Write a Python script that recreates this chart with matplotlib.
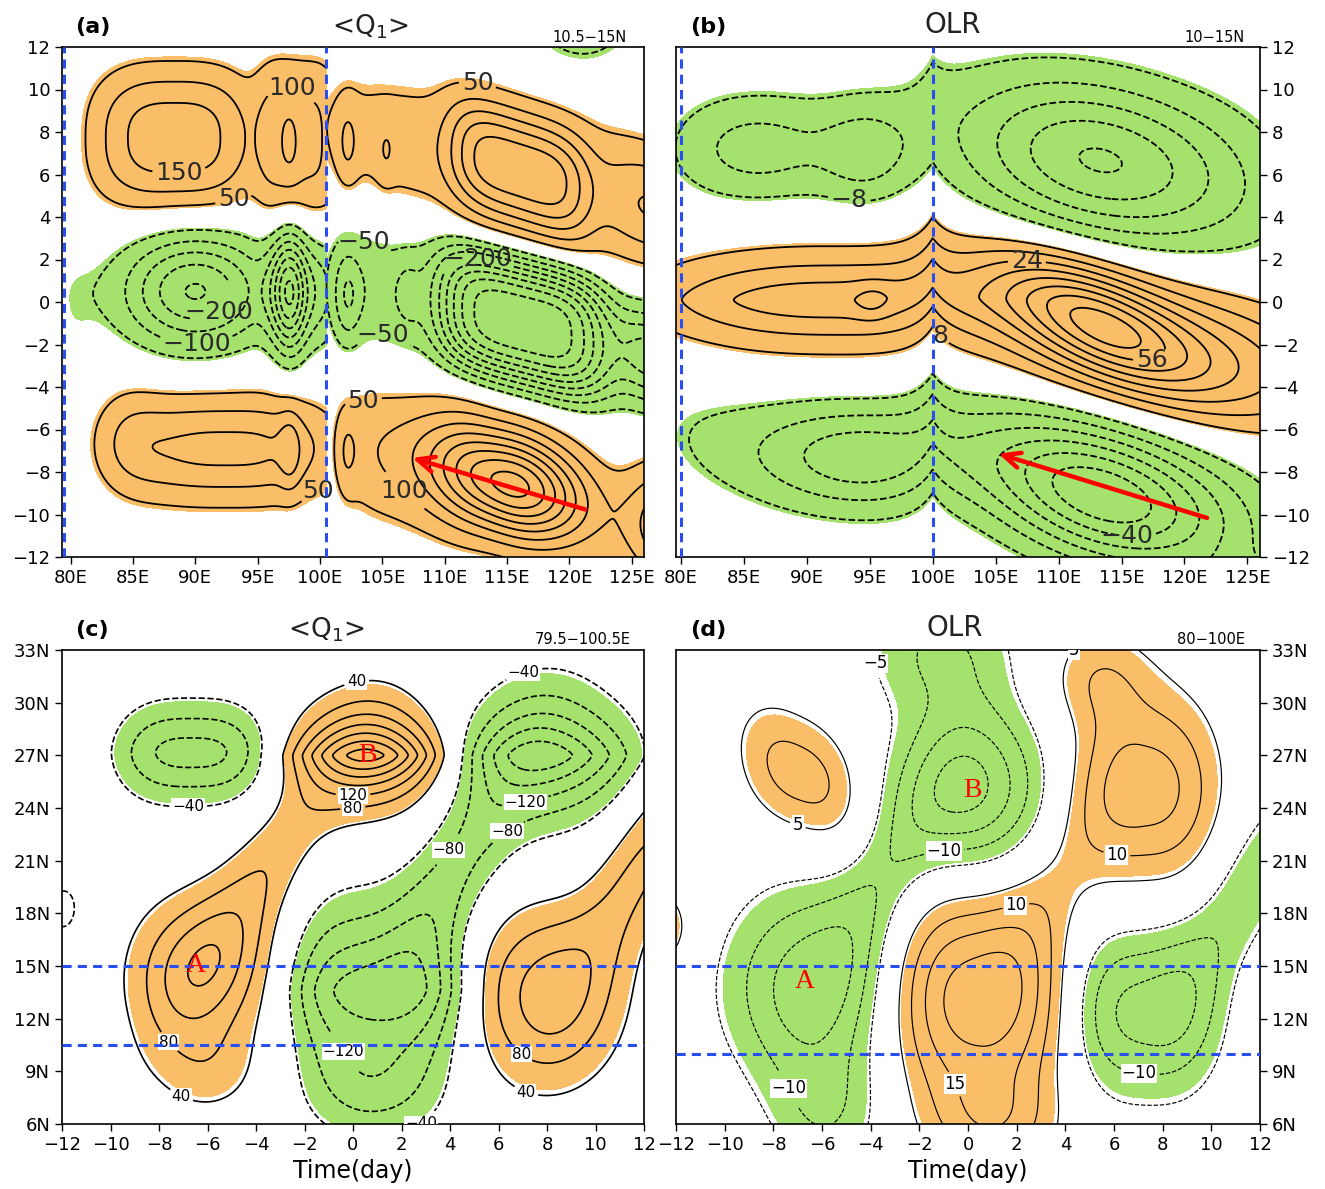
import numpy as np
import matplotlib
matplotlib.use('Agg')
import matplotlib.pyplot as plt

# ---------------- data (blob descriptions) ----------------
# each field = sum of blobs: x0, y0, amplitude, x-scale, y-scale, tilt (dy/dx), x-shape, y-shape
# Panel (a): <Q1>, longitude vs day, left of 100.5E and right of 100.5E
QA_L_X0 = [88.3, 98.3, 97.6, 90.0, 98.5, 97.6, 92.5, 84.5, 97.6, 80.0]
QA_L_Y0 = [7.7, 7.6, 7.5, 0.5, 0.5, 0.4, -6.9, -6.4, -7.0, -0.4]
QA_L_AMP = [180, 110, 45, -255, -120, -200, 165, 50, 60, -30]
QA_L_SX = [5.2, 2.8, 0.6, 4.1, 2.5, 0.9, 7.0, 2.0, 0.6, 1.6]
QA_L_SY = [2.5, 3.2, 1.3, 1.85, 1.9, 2.0, 1.8, 1.8, 1.3, 2.4]
QA_L_TILT = [0, 0, 0, 0, 0, 0, 0, 0, 0, 0]
QA_L_QX = [3, 4, 2, 2, 4, 2, 3, 2, 2, 2]
QA_L_QY = [2.5, 3, 2, 2, 2, 2, 2, 2, 2, 3]

QA_R_X0 = [116.0, 113.0, 102.2, 105.3, 127.5, 121.0, 116.4, 106.0, 102.2, 107.0, 126.5, 115.5, 107.0, 102.1, 128.0]
QA_R_Y0 = [6.2, 6.6, 7.4, 7.0, 4.3, 13.3, -1.0, 0.4, 0.2, 0.4, -2.6, -8.6, -7.3, -7.1, -10.5]
QA_R_AMP = [210, 80, 55, 32, 120, -90, -440, -85, -90, -40, -230, 420, 90, 50, 200]
QA_R_SX = [4.5, 12.5, 0.6, 0.5, 3.5, 3.0, 5.45, 5.0, 0.8, 0.7, 2.5, 4.1, 5.0, 0.6, 2.5]
QA_R_SY = [1.95, 2.5, 1.4, 1.0, 1.8, 1.6, 2.26, 2.3, 1.6, 1.2, 1.6, 1.7, 2.5, 1.4, 2.0]
QA_R_TILT = [-0.2, -0.12, 0, 0, -0.12, 0, -0.15, -0.1, 0, 0, -0.15, -0.15, -0.1, 0, 0]
QA_R_QX = [4, 4, 2, 2, 2, 2, 4, 4, 2, 2, 2, 2, 4, 2, 2]
QA_R_QY = [2.5, 2, 2, 2, 2, 2, 3, 2, 2, 2, 2, 2, 2, 2, 2]

# Panel (b): OLR, longitude vs day
OB_X0 = [92.0, 95.2, 113.5, 118.0, 86.0, 94.7, 90.0, 113.3, 115.0, 94.5, 88.0, 113.5, 115.0, 124.0]
OB_Y0 = [0.1, 0.0, -1.1, -2.0, 7.2, 7.0, 7.2, 6.7, 6.3, -7.3, -6.8, -9.2, -8.5, -13.6]
OB_AMP = [30, 6, 40, 30, -13, -13, -7, -31, -10, -22, -8, -46, -10, -16]
OB_SX = [11.0, 1.0, 5.5, 11.0, 4.3, 2.5, 10.0, 7.0, 12.0, 6.0, 10.0, 6.5, 12.0, 2.5]
OB_SY = [1.45, 0.6, 1.6, 2.2, 1.6, 1.6, 2.5, 2.45, 3.0, 1.7, 2.2, 2.1, 2.5, 1.0]
OB_TILT = [0, 0, -0.25, -0.13, 0, 0, 0, -0.1, -0.08, 0, -0.1, -0.15, -0.15, 0]
OB_QX = [2.5, 2, 2, 3, 2, 2, 4, 2, 4, 2, 4, 2, 4, 2]
OB_QY = [1.5, 2, 2, 2, 2, 2, 2, 2, 2, 2, 2, 2, 2, 2]
OB_KINK = 1.2      # days the pattern is lifted at 100E
OB_KINK_W = 1.3

# Panel (c): <Q1>, day vs latitude
QC_X0 = [0.7, -6.4, -6.0, -4.0, -6.6, 1.0, 0.8, 4.5, 8.0, 8.0, 12.0, -11.9]
QC_Y0 = [27.0, 14.7, 9.0, 19.5, 27.15, 13.6, 8.0, 21.0, 27.0, 13.3, 21.0, 18.2]
QC_AMP = [290, 120, 50, 75, -135, -175, -60, -80, -215, 135, 90, -46]
QC_SX = [2.0, 2.0, 1.6, 2.6, 2.5, 2.9, 1.8, 2.0, 2.4, 2.1, 2.0, 1.0]
QC_SY = [1.4, 3.0, 2.0, 2.8, 1.9, 3.0, 2.0, 3.0, 1.85, 3.6, 3.0, 2.2]
QC_TILT = [0, 0, 0, 1.7, 0, 0, 0, 1.7, 0, 0, 1.7, 0]
QC_QX = [2, 2, 2, 2, 3, 3.5, 2, 2, 2, 2, 2, 2]
QC_QY = [1.3, 2, 2, 2, 1.8, 1.5, 2, 2, 1.3, 2, 2, 2]

# Panel (d): OLR, day vs latitude
OD_X0 = [-6.9, 0.1, -1.2, -6.6, -5.8, 0.35, 1.0, 7.3, 5.3, 7.3, -3.5, 3.5, 11.5, -12.8]
OD_Y0 = [25.9, 25.1, 33.0, 13.8, 6.5, 13.1, 6.0, 25.1, 31.5, 12.4, 20.0, 19.5, 19.5, 17.2]
OD_AMP = [12.5, -21, -10, -17, -8, 23, 10, 17.5, 8, -16.5, -8, 5, -9, 12]
OD_SX = [1.9, 2.05, 2.2, 2.4, 1.6, 2.6, 1.8, 2.2, 1.5, 2.4, 2.0, 1.8, 2.0, 0.9]
OD_SY = [2.5, 3.3, 2.5, 4.0, 2.5, 4.2, 2.0, 3.7, 2.0, 3.4, 3.0, 3.0, 3.0, 1.5]
OD_TILT = [-0.6, 0, 0, 0, 0, 0, 0, 0, 0, 0, 1.7, 1.7, 1.7, 0]
OD_QX = [2.5, 2, 2, 2, 2, 2.5, 2, 2.5, 2, 3, 2, 2, 2, 2]
OD_QY = [2, 2, 2, 2, 2, 2, 2, 2, 2, 2, 2, 2, 2, 2]

LON_TICKS = [80, 85, 90, 95, 100, 105, 110, 115, 120, 125]
DAY_TICKS_A = list(range(-12, 13, 2))
LAT_TICKS = [6, 9, 12, 15, 18, 21, 24, 27, 30, 33]
TIME_TICKS = list(range(-12, 13, 2))

LEV_A = [v for v in range(-500, 501, 50) if v != 0]
LEV_B = [v for v in range(-80, 81, 8) if v != 0]
LEV_C = [v for v in range(-320, 321, 40) if v != 0]
LEV_D = [v for v in range(-30, 31, 5) if v != 0]

ORANGE = '#fbbe68'
GREEN = '#a5e16d'
BLUE = '#2a4ff0'
MINUS = '\u2212'


def blobs(X, Y, x0, y0, amp, sx, sy, tilt, qx, qy):
    F = np.zeros_like(X)
    for a, b, c, d, e, t, p, q in zip(x0, y0, amp, sx, sy, tilt, qx, qy):
        u = np.abs((X - a) / d)
        w = np.abs((Y - (b + t * (X - a))) / e)
        F += c * np.exp(-0.5 * (u ** p + w ** q))
    return F


def fmt_num(v):
    return f"{v:.0f}".replace('-', MINUS)


def draw_field(ax, X, Y, F, levels, thr, lw):
    ax.contourf(X, Y, F, levels=[-1e9, -thr, thr, 1e9],
                colors=[GREEN, 'none', ORANGE], zorder=1)
    cs = ax.contour(X, Y, F, levels=levels, colors='k', linewidths=lw, zorder=3)
    cs.set_linestyles(['--' if l < 0 else '-' for l in cs.levels])
    return cs


def label(cs, pos_by_level, fs, box=False, color='#2a2a2a'):
    cs.clabel(manual=[], fontsize=fs, inline=True, inline_spacing=3,
              fmt=fmt_num, colors=color)
    full = [float(v) for v in cs.levels]
    for lev, pts in pos_by_level.items():
        idx = [i for i, v in enumerate(full) if abs(v - lev) < 1e-6]
        if not idx:
            continue
        cs.labelIndiceList = [idx[0]]
        cs.labelLevelList = [float(lev)] * len(full)
        for (x, y) in pts:
            try:
                cs.add_label_near(x, y, inline=True, inline_spacing=3)
            except Exception:
                pass
    for t in cs.labelTexts:
        t.set_rotation(0)
        if box:
            t.set_bbox(dict(boxstyle='square,pad=0.05', fc='white', ec='none'))
        t.set_zorder(4)


fig = plt.figure(figsize=(13.25, 11.89), dpi=100)
W, H = 1325, 1189


def axes_px(l, r, t, b):
    return fig.add_axes([l / W, 1 - b / H, (r - l) / W, (b - t) / H])


ax_a = axes_px(62, 644, 47, 557)
ax_b = axes_px(676, 1260, 47, 557)
ax_c = axes_px(62, 644, 650, 1124)
ax_d = axes_px(676, 1260, 650, 1124)

# ---------- panel (a) ----------
ax_a.set_xlim(79.3, 126)
ax_a.set_ylim(-12, 12)
ya = np.linspace(-12, 12, 300)
xl = np.linspace(79.3, 100.5, 220)
xr = np.linspace(100.5, 126.0, 260)
XL, YL = np.meshgrid(xl, ya)
XR, YR = np.meshgrid(xr, ya)
FL = blobs(XL, YL, QA_L_X0, QA_L_Y0, QA_L_AMP, QA_L_SX, QA_L_SY, QA_L_TILT, QA_L_QX, QA_L_QY)
FR = blobs(XR, YR, QA_R_X0, QA_R_Y0, QA_R_AMP, QA_R_SX, QA_R_SY, QA_R_TILT, QA_R_QX, QA_R_QY)
csL = draw_field(ax_a, XL, YL, FL, LEV_A, 42, 1.3)
csR = draw_field(ax_a, XR, YR, FR, LEV_A, 42, 1.3)
label(csL, {100: [(97.7, 10.0)], 150: [(88.7, 6.0)], 50: [(93.1, 4.8), (99.8, -8.9)],
            -200: [(92.3, -0.9)], -100: [(90.1, -2.45)]}, 18)
label(csR, {50: [(112.7, 10.5), (103.6, -5.0)], -50: [(103.6, 2.9), (104.9, -2.0)],
            -200: [(112.6, 1.9)], 100: [(106.6, -9.0)]}, 18)
for xv in (79.5, 100.5):
    ax_a.axvline(xv, color=BLUE, lw=2.2, ls=(0, (3, 2)), zorder=5)
ax_a.annotate('', xy=(107.2, -7.3), xytext=(121.5, -9.8),
              arrowprops=dict(arrowstyle='->,head_length=1.2,head_width=0.55', color='red', lw=3.2),
              zorder=6)

# ---------- panel (b) ----------
ax_b.set_xlim(79.6, 126)
ax_b.set_ylim(-12, 12)
xb = np.linspace(79.5, 126.0, 480)
yb = np.linspace(-12, 12, 300)
XB, YB = np.meshgrid(xb, yb)
YW = YB - OB_KINK * np.exp(-np.abs(XB - 100.0) / OB_KINK_W)
FB = blobs(XB, YW, OB_X0, OB_Y0, OB_AMP, OB_SX, OB_SY, OB_TILT, OB_QX, OB_QY)
csB = draw_field(ax_b, XB, YB, FB, LEV_B, 7, 1.3)
label(csB, {-8: [(93.4, 5.0)], 24: [(107.5, 2.3)], 8: [(100.1, -1.9)],
            56: [(117.5, -3.1)], -40: [(115.4, -11.1)]}, 18)
for xv in (80, 100):
    ax_b.axvline(xv, color=BLUE, lw=2.2, ls=(0, (3, 2)), zorder=5)
ax_b.annotate('', xy=(105.0, -7.1), xytext=(122.0, -10.2),
              arrowprops=dict(arrowstyle='->,head_length=1.2,head_width=0.55', color='red', lw=3.2),
              zorder=6)

# ---------- panel (c) ----------
ax_c.set_xlim(-12, 12)
ax_c.set_ylim(6, 33)
xc = np.linspace(-12, 12, 300)
yc = np.linspace(6, 33, 300)
XC, YC = np.meshgrid(xc, yc)
FC = blobs(XC, YC, QC_X0, QC_Y0, QC_AMP, QC_SX, QC_SY, QC_TILT, QC_QX, QC_QY)
csC = draw_field(ax_c, XC, YC, FC, LEV_C, 46, 1.2)
label(csC, {40: [(0.0, 32.3), (-7.1, 7.55), (7.0, 7.3)], -40: [(7.0, 31.9), (-6.8, 24.6), (1.3, 6.4)],
            120: [(0.0, 24.7)], 80: [(0.0, 23.9), (-7.1, 11.25), (7.0, 10.1)],
            -120: [(7.05, 24.7), (0.0, 10.5)], -80: [(6.06, 23.3), (4.0, 21.55)]}, 11, box=True, color='k')
for yv in (15, 10.5):
    ax_c.axhline(yv, color=BLUE, lw=2.2, ls=(0, (3, 2)), zorder=5)
ax_c.text(-6.5, 15.0, 'A', color='red', fontsize=20, family='Liberation Serif', ha='center', va='center', zorder=7)
ax_c.text(0.6, 27.0, 'B', color='red', fontsize=20, family='Liberation Serif', ha='center', va='center', zorder=7)

# ---------- panel (d) ----------
ax_d.set_xlim(-12, 12)
ax_d.set_ylim(6, 33)
XD, YD = np.meshgrid(np.linspace(-12, 12, 300), np.linspace(6, 33, 300))
FD = blobs(XD, YD, OD_X0, OD_Y0, OD_AMP, OD_SX, OD_SY, OD_TILT, OD_QX, OD_QY)
csD = draw_field(ax_d, XD, YD, FD, LEV_D, 6, 0.85)
label(csD, {-5: [(-1.97, 32.7)], 5: [(5.0, 32.5), (-7.0, 23.0)], -10: [(-1.0, 21.7), (-7.0, 8.3), (7.0, 8.6)],
            10: [(6.0, 20.1), (2.0, 18.2)], 15: [(-0.04, 8.6)]}, 12, box=True, color='k')
for yv in (15, 10):
    ax_d.axhline(yv, color=BLUE, lw=2.2, ls=(0, (3, 2)), zorder=5)
ax_d.text(-6.7, 14.1, 'A', color='red', fontsize=20, family='Liberation Serif', ha='center', va='center', zorder=7)
ax_d.text(0.2, 25.0, 'B', color='red', fontsize=20, family='Liberation Serif', ha='center', va='center', zorder=7)

# ---------- axes styling ----------
for ax in (ax_a, ax_b):
    ax.set_xticks(LON_TICKS)
    ax.set_xticklabels([f"{v}E" for v in LON_TICKS])
    ax.set_yticks(DAY_TICKS_A)
    ax.set_yticklabels([fmt_num(v) for v in DAY_TICKS_A])
for ax in (ax_c, ax_d):
    ax.set_xticks(TIME_TICKS)
    ax.set_xticklabels([fmt_num(v) for v in TIME_TICKS])
    ax.set_yticks(LAT_TICKS)
    ax.set_yticklabels([f"{v}N" for v in LAT_TICKS])
    ax.set_xlabel('Time(day)', fontsize=17, labelpad=4)
for ax in (ax_a, ax_b, ax_c, ax_d):
    ax.tick_params(direction='out', length=5, width=1, labelsize=13)
    for s in ax.spines.values():
        s.set_linewidth(1.2)
for ax in (ax_b, ax_d):
    ax.yaxis.tick_right()

# titles and annotations
fig.text(75 / W, 1 - 27 / H, '(a)', fontsize=16, fontweight='bold', va='center')
fig.text(690 / W, 1 - 27 / H, '(b)', fontsize=16, fontweight='bold', va='center')
fig.text(75 / W, 1 - 630 / H, '(c)', fontsize=16, fontweight='bold', va='center')
fig.text(690 / W, 1 - 630 / H, '(d)', fontsize=16, fontweight='bold', va='center')
fig.text(370 / W, 1 - 27 / H, '<Q$_1$>', fontsize=19, ha='center', va='center', color='#222222')
fig.text(953 / W, 1 - 25 / H, 'OLR', fontsize=20, ha='center', va='center', color='#222222')
fig.text(326 / W, 1 - 630 / H, '<Q$_1$>', fontsize=19, ha='center', va='center', color='#222222')
fig.text(955 / W, 1 - 628 / H, 'OLR', fontsize=20, ha='center', va='center', color='#222222')
fig.text(627 / W, 1 - 37 / H, '10.5' + MINUS + '15N', fontsize=10.5, ha='right', va='center')
fig.text(1245 / W, 1 - 37 / H, '10' + MINUS + '15N', fontsize=10.5, ha='right', va='center')
fig.text(631 / W, 1 - 639 / H, '79.5' + MINUS + '100.5E', fontsize=10.5, ha='right', va='center')
fig.text(1245 / W, 1 - 639 / H, '80' + MINUS + '100E', fontsize=10.5, ha='right', va='center')

fig.savefig('out.png', dpi=100)
